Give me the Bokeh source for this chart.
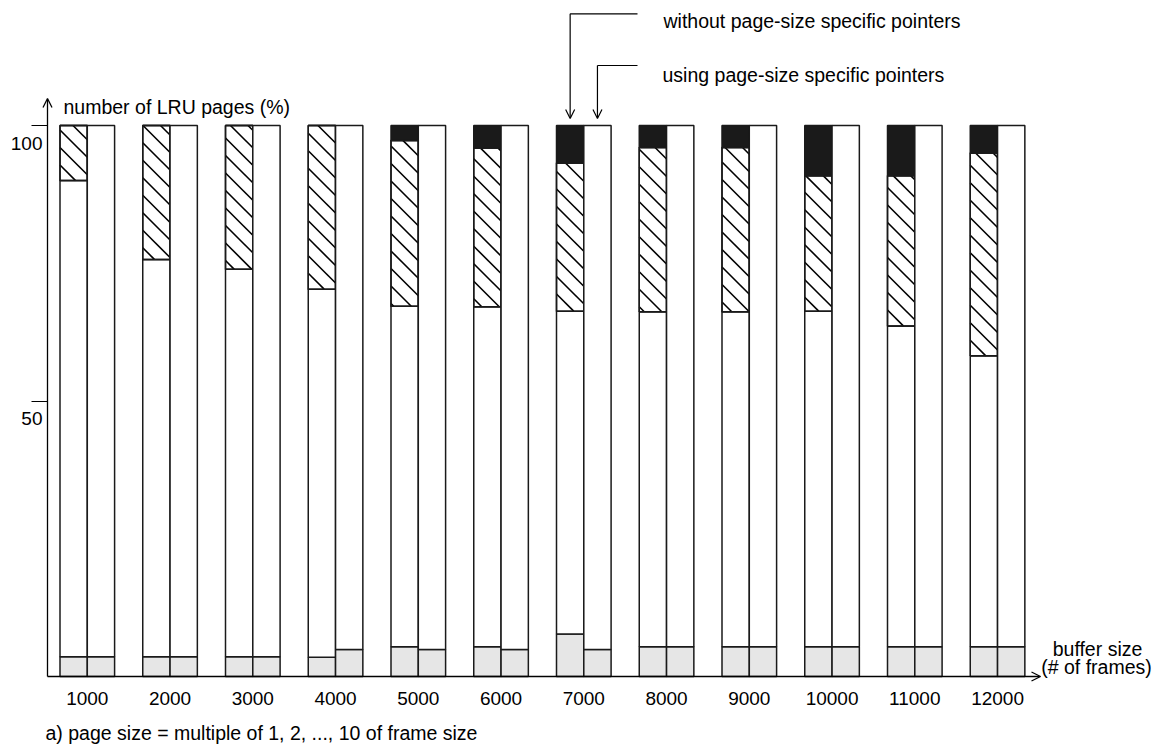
from bokeh.plotting import figure
from bokeh.models import Range1d, FixedTicker, Arrow, OpenHead, Label, LabelSet, ColumnDataSource
from bokeh.core.properties import value
from bokeh.embed import file_html
from bokeh.resources import INLINE

# ---------------- data ----------------
buffer_sizes = [1000, 2000, 3000, 4000, 5000, 6000, 7000, 8000, 9000, 10000, 11000, 12000]
x_tick_labels = ["1000", "2000", "3000", "4000", "5000", "6000", "7000", "8000",
                 "9000", "10000", "11000", "12000"]
y_ticks = [50, 100]
y_tick_labels = ["50", "100"]

# "without page-size specific pointers" bar: cumulative boundaries (% of LRU pages)
without_gray_top = [3.6, 3.6, 3.6, 3.5, 5.4, 5.4, 7.7, 5.4, 5.4, 5.4, 5.4, 5.4]
without_white_top = [90.0, 75.7, 73.9, 70.3, 67.2, 67.1, 66.3, 66.2, 66.2, 66.3, 63.6, 58.2]
without_hatch_top = [100.0, 100.0, 100.0, 100.0, 97.3, 95.9, 93.2, 96.0, 96.0, 90.9, 90.9, 95.0]
# "using page-size specific pointers" bar
using_gray_top = [3.6, 3.6, 3.6, 4.9, 4.9, 4.9, 4.9, 5.4, 5.4, 5.4, 5.4, 5.4]
total = [100.0] * 12

# ---------------- layout (pixels of the page) ----------------
FONT = "Liberation Sans"
FS = "19.5px"
FS_NUM = "19px"
W, H = 1162, 747
AXIS_X_PX, AXIS_Y_PX = 47, 676
GROUP0_PX, GROUP_STEP_PX = 86.8, 82.75
PX_PER_PCT = 5.51
X_PER_PX = 1000.0 / GROUP_STEP_PX
HATCH_STEP_PX = 17.5


def px_to_x(px):
    return buffer_sizes[0] + (px - GROUP0_PX) * X_PER_PX


def px_to_y(py):
    return (AXIS_Y_PX - py) / PX_PER_PCT


def x_to_px(x):
    return GROUP0_PX + (x - buffer_sizes[0]) / X_PER_PX


def y_to_px(y):
    return AXIS_Y_PX - y * PX_PER_PCT


x_start, x_end = px_to_x(0), px_to_x(W)
y_start, y_end = px_to_y(H), px_to_y(0)
x_axis_pos = px_to_x(AXIS_X_PX)
bar_w = 27.3 * X_PER_PX

p = figure(width=W, height=H, output_backend="svg", toolbar_location=None, title=None,
           x_range=Range1d(x_start, x_end), y_range=Range1d(y_start, y_end),
           min_border_left=0, min_border_right=0, min_border_top=0, min_border_bottom=0)
p.outline_line_color = None
p.xgrid.visible = False
p.ygrid.visible = False
p.background_fill_color = "white"
p.border_fill_color = "white"

LINE = "#1a1a1a"
GRAY = "#e6e6e6"
BLACK = "#1a1a1a"

left_x = [b - bar_w / 2 for b in buffer_sizes]
right_x = [b + bar_w / 2 for b in buffer_sizes]

common = dict(width=bar_w, line_color=LINE, line_width=1.5)
# without bars
p.vbar(x=left_x, bottom=0, top=without_gray_top, fill_color=GRAY, **common)
p.vbar(x=left_x, bottom=without_gray_top, top=without_white_top, fill_color="white", **common)
p.vbar(x=left_x, bottom=without_white_top, top=without_hatch_top, fill_color="white", **common)

# 45-degree "\" hatching of the middle segment, computed from the bar extents
hx0, hy0, hx1, hy1 = [], [], [], []
for cx, lo, hi in zip(left_x, without_white_top, without_hatch_top):
    L, R = x_to_px(cx - bar_w / 2), x_to_px(cx + bar_w / 2)
    T, B = y_to_px(hi), y_to_px(lo)
    k = int((T - R) // HATCH_STEP_PX)
    while k * HATCH_STEP_PX <= B - L:
        c = k * HATCH_STEP_PX
        a, b = max(L, T - c), min(R, B - c)
        if b - a > 0.5:
            hx0.append(px_to_x(a)); hy0.append(px_to_y(a + c))
            hx1.append(px_to_x(b)); hy1.append(px_to_y(b + c))
        k += 1
p.segment(x0=hx0, y0=hy0, x1=hx1, y1=hy1, line_color="black", line_width=1.6)
# redraw outlines of hatched segments on top
p.vbar(x=left_x, bottom=without_white_top, top=without_hatch_top, fill_color=None, **common)
p.vbar(x=left_x, bottom=without_hatch_top, top=total, fill_color=BLACK, **common)
# using bars
p.vbar(x=right_x, bottom=0, top=using_gray_top, fill_color=GRAY, **common)
p.vbar(x=right_x, bottom=using_gray_top, top=total, fill_color="white", **common)

# x axis (labels only), fixed at y = 0
xa = p.xaxis[0]
xa.fixed_location = 0
xa.ticker = FixedTicker(ticks=buffer_sizes)
xa.major_label_overrides = dict(zip(buffer_sizes, x_tick_labels))
xa.axis_line_color = None
xa.major_tick_line_color = None
xa.minor_tick_line_color = None
xa.major_label_standoff = 9
xa.major_label_text_font = FONT
xa.major_label_text_font_size = FS_NUM
xa.major_label_text_color = "black"

# y axis (ticks only; labels drawn below the ticks)
ya = p.yaxis[0]
ya.fixed_location = x_axis_pos
ya.ticker = FixedTicker(ticks=y_ticks)
ya.major_label_overrides = {t: "" for t in y_ticks}
ya.axis_line_color = None
ya.minor_tick_line_color = None
ya.major_tick_in = 0
ya.major_tick_out = 16
ya.major_tick_line_color = "black"
ya.major_tick_line_width = 1.2

ytl = ColumnDataSource(dict(y=y_ticks, text=y_tick_labels, x=[x_axis_pos] * len(y_ticks)))
p.add_layout(LabelSet(x="x", y="y", text="text", source=ytl, x_offset=-5, y_offset=-24,
                      text_align="right", text_baseline="alphabetic",
                      text_font=value(FONT), text_font_size=value(FS_NUM),
                      text_color="black"))

# axis arrows
p.add_layout(Arrow(end=OpenHead(size=9, line_width=1.3, line_color="black"),
                   x_start=x_axis_pos, y_start=0, x_end=x_axis_pos, y_end=px_to_y(98),
                   line_width=1.3, line_color="black"))
p.add_layout(Arrow(end=OpenHead(size=9, line_width=1.3, line_color="black"),
                   x_start=x_axis_pos, y_start=0, x_end=px_to_x(1040), y_end=0,
                   line_width=1.3, line_color="black"))


def text_label(txt, px, py, align="left", size=FS):
    p.add_layout(Label(x=px_to_x(px), y=px_to_y(py), text=txt, text_align=align,
                       text_baseline="alphabetic", text_font=FONT, text_font_size=size,
                       text_color="black"))


text_label("number of LRU pages (%)", 63, 106)
text_label("buffer size", 1097, 648, "center")
text_label("(# of frames)", 1096, 666, "center")
text_label("without page-size specific pointers", 663, 20)
text_label("using page-size specific pointers", 662, 74)
text_label("a) page size = multiple of 1, 2, ..., 10 of frame size", 45, 732)

# leader arrows pointing at the 7000 group
g = buffer_sizes.index(7000)
for bx, py in ((left_x[g], 13.3), (right_x[g], 65)):
    p.segment(x0=[bx], y0=[px_to_y(py)], x1=[px_to_x(637)], y1=[px_to_y(py)],
              line_color="black", line_width=1.2)
    p.add_layout(Arrow(end=OpenHead(size=9, line_width=1.2, line_color="black"),
                       x_start=bx, y_start=px_to_y(py), x_end=bx, y_end=px_to_y(118),
                       line_width=1.2, line_color="black"))

open("out.html", "w").write(file_html(p, INLINE))
